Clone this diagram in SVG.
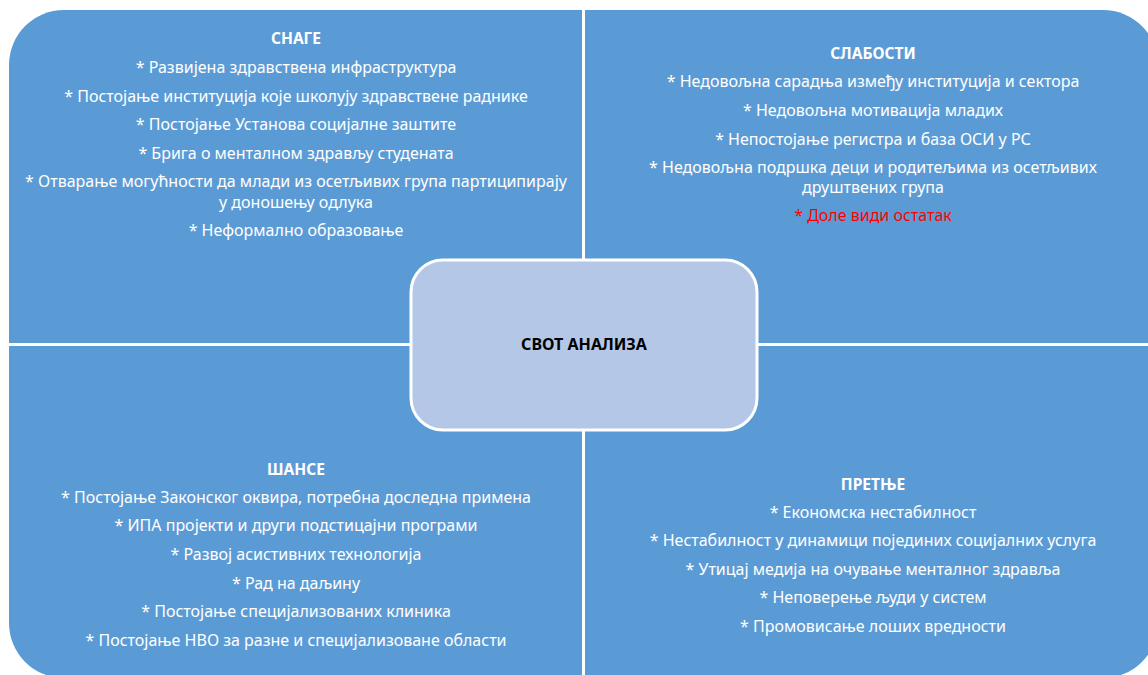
<svg xmlns="http://www.w3.org/2000/svg" width="1148" height="675" viewBox="0 0 1148 675">
  <style>
    .quad { fill: #5B9BD5; stroke: none; }
    .center { fill: #B4C7E7; stroke: #FFFFFF; stroke-width: 3; }
    text { font-family: "Noto Sans", "Liberation Sans", sans-serif; font-size: 16px; text-anchor: middle; }
    .t { fill: #FFFFFF; }
    .h { fill: #FFFFFF; font-weight: bold; font-size: 15.5px; }
    .red { fill: #FF0000; }
    .c { fill: #000000; font-weight: bold; font-size: 16px; }
  </style>
  <rect x="0" y="0" width="1148" height="675" fill="#FFFFFF"/>

  <g id="strengths">
    <path class="quad" d="M9,65 A55,55 0 0 1 64,10 L582,10 L582,343 L9,343 Z"/>
    <text class="h" x="296" y="44">СНАГЕ</text>
    <text class="t" x="296" y="73">* Развијена здравствена инфраструктура</text>
    <text class="t" x="296" y="102">* Постојање институција које школују здравствене раднике</text>
    <text class="t" x="296" y="130">* Постојање Установа социјалне заштите</text>
    <text class="t" x="296" y="159">* Брига о менталном здрављу студената</text>
    <text class="t" x="296" y="187">* Отварање могућности да млади из осетљивих група партиципирају</text>
    <text class="t" x="296" y="208">у доношењу одлука</text>
    <text class="t" x="296" y="236">* Неформално образовање</text>
  </g>

  <g id="weaknesses">
    <path class="quad" d="M585,10 L1103,10 A55,55 0 0 1 1158,65 L1158,343 L585,343 Z"/>
    <text class="h" x="873" y="59">СЛАБОСТИ</text>
    <text class="t" x="873" y="87">* Недовољна сарадња између институција и сектора</text>
    <text class="t" x="873" y="116">* Недовољна мотивација младих</text>
    <text class="t" x="873" y="145">* Непостојање регистра и база ОСИ у РС</text>
    <text class="t" x="873" y="173">* Недовољна подршка деци и родитељима из осетљивих</text>
    <text class="t" x="873" y="193">друштвених група</text>
    <text class="red" x="873" y="221">* Доле види остатак</text>
  </g>

  <g id="opportunities">
    <path class="quad" d="M9,346 L582,346 L582,678 L64,678 A55,55 0 0 1 9,623 Z"/>
    <text class="h" x="296" y="475">ШАНСЕ</text>
    <text class="t" x="296" y="503">* Постојање Законског оквира, потребна доследна примена</text>
    <text class="t" x="296" y="531">* ИПА пројекти и други подстицајни програми</text>
    <text class="t" x="296" y="560">* Развој асистивних технологија</text>
    <text class="t" x="296" y="589">* Рад на даљину</text>
    <text class="t" x="296" y="617">* Постојање специјализованих клиника</text>
    <text class="t" x="296" y="646">* Постојање НВО за разне и специјализоване области</text>
  </g>

  <g id="threats">
    <path class="quad" d="M585,346 L1158,346 L1158,623 A55,55 0 0 1 1103,678 L585,678 Z"/>
    <text class="h" x="873" y="490">ПРЕТЊЕ</text>
    <text class="t" x="873" y="518">* Економска нестабилност</text>
    <text class="t" x="873" y="546">* Нестабилност у динамици појединих социјалних услуга</text>
    <text class="t" x="873" y="575">* Утицај медија на очување менталног здравља</text>
    <text class="t" x="873" y="603">* Неповерење људи у систем</text>
    <text class="t" x="873" y="632">* Промовисање лоших вредности</text>
  </g>

  <g id="swot-center">
    <rect class="center" x="411" y="260" width="346" height="170" rx="32" ry="32"/>
    <text class="c" x="584" y="350">СВОТ АНАЛИЗА</text>
  </g>
</svg>
